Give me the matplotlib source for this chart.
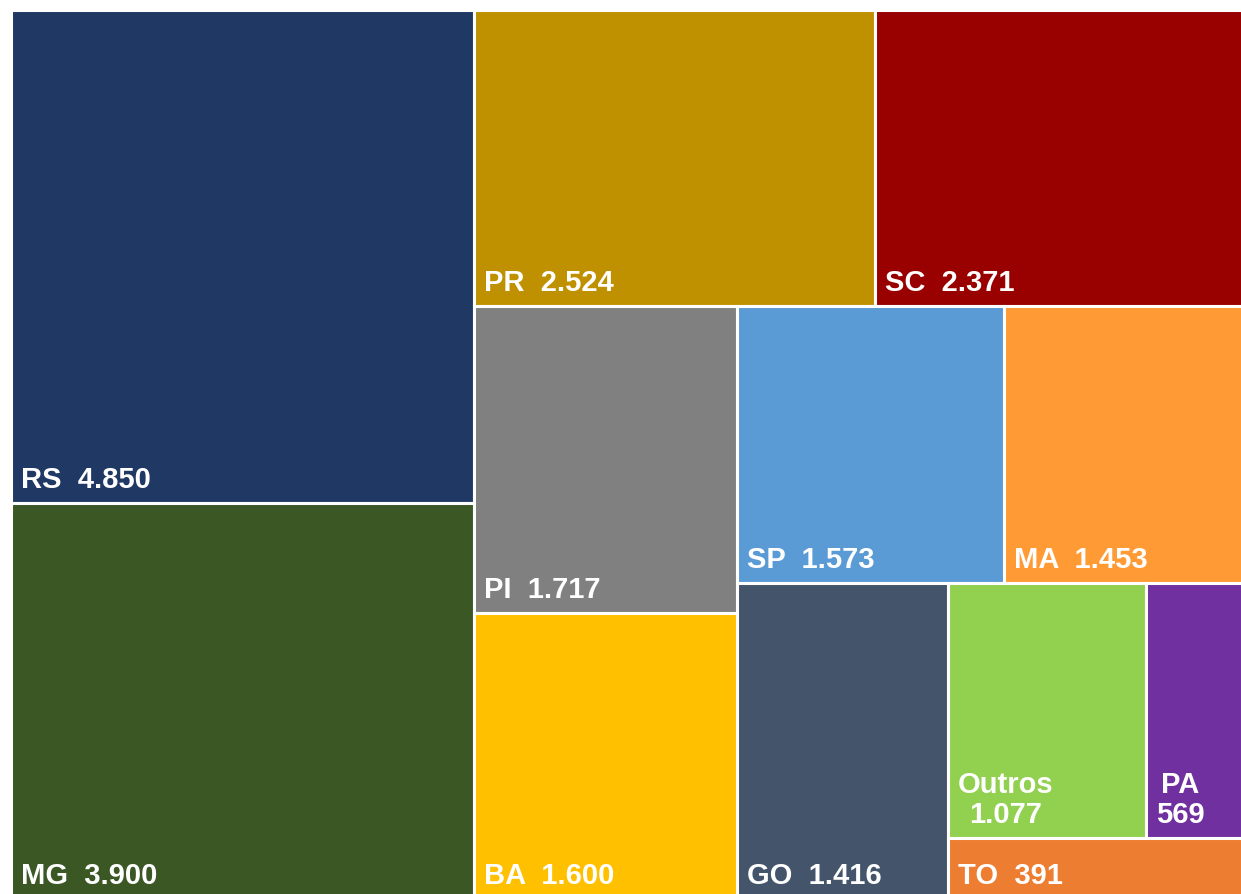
import matplotlib
matplotlib.use('Agg')
from matplotlib import pyplot as plt
from matplotlib.patches import Rectangle

# data
states = ['RS', 'MG', 'PR', 'SC', 'PI', 'BA', 'SP', 'MA', 'GO', 'Outros', 'PA', 'TO']
values = [4850, 3900, 2524, 2371, 1717, 1600, 1573, 1453, 1416, 1077, 569, 391]
colors = ['#203864', '#3a5724', '#bf9000', '#990000', '#808080', '#ffc000',
          '#5b9bd5', '#ff9a35', '#44546a', '#92d050', '#7030a0', '#ed7d31']
# how many items go in each strip of the treemap
strips = [2, 2, 2, 2, 1, 2, 1]
wrapped = ['Outros', 'PA']

plt.rcParams['font.family'] = ['Liberation Sans', 'DejaVu Sans']


def layout(vals, x, y, w, h, strips):
    rects = []
    i = 0
    for n in strips:
        group = vals[i:i + n]
        s = sum(group)
        rest = sum(vals[i:])
        if w >= h:
            cw = w * s / rest
            yy = y
            for v in group:
                hh = h * v / s
                rects.append((x, yy, cw, hh))
                yy += hh
            x += cw
            w -= cw
        else:
            rh = h * s / rest
            xx = x
            for v in group:
                ww = w * v / s
                rects.append((xx, y, ww, rh))
                xx += ww
            y += rh
            h -= rh
        i += n
    return rects


def fmt(v):
    return '{:,}'.format(v).replace(',', '.')


fig = plt.figure(figsize=(12.41, 8.95), dpi=100)
ax = fig.add_axes([0, 0, 1, 1])
ax.set_xlim(0, 1241)
ax.set_ylim(895, 0)
ax.axis('off')

rects = layout(values, 11, 11, 1240, 889, strips)
fs = 21
for (x, y, w, h), name, v, c in zip(rects, states, values, colors):
    ax.add_patch(Rectangle((x, y), w, h, facecolor=c, edgecolor='white', linewidth=2.2))
    if name in wrapped:
        label = name + '\n' + fmt(v)
    else:
        label = name + '  ' + fmt(v)
    ax.text(x + 10, y + h - 16, label, color='white', fontsize=fs, fontweight='bold',
            ha='left', va='baseline', multialignment='center', linespacing=1.12)

fig.savefig('out.png', dpi=100)
